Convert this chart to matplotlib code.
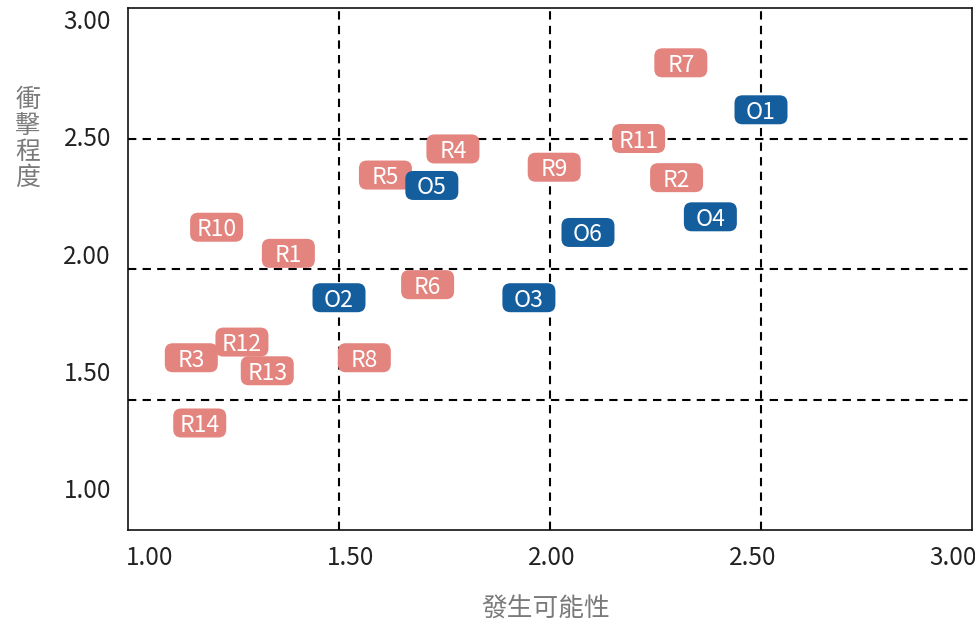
import matplotlib
matplotlib.use("Agg")
import matplotlib.pyplot as plt
import matplotlib.transforms as mtransforms
from matplotlib.patches import FancyBboxPatch

plt.rcParams['font.family'] = ['Noto Sans CJK TC', 'DejaVu Sans']

# risk items (發生可能性, 衝擊程度)
risk_labels = ['R1', 'R2', 'R3', 'R4', 'R5', 'R6', 'R7',
               'R8', 'R9', 'R10', 'R11', 'R12', 'R13', 'R14']
risk_x = [1.38, 2.30, 1.15, 1.77, 1.61, 1.71, 2.31,
          1.56, 2.01, 1.21, 2.21, 1.27, 1.33, 1.17]
risk_y = [2.06, 2.35, 1.66, 2.46, 2.36, 1.94, 2.79,
          1.66, 2.39, 2.16, 2.50, 1.72, 1.61, 1.41]

# opportunity items
opp_labels = ['O1', 'O2', 'O3', 'O4', 'O5', 'O6']
opp_x = [2.50, 1.50, 1.95, 2.38, 1.72, 2.09]
opp_y = [2.61, 1.89, 1.89, 2.20, 2.32, 2.14]

tick_values = [1.0, 1.5, 2.0, 2.5, 3.0]
tick_labels = ['1.00', '1.50', '2.00', '2.50', '3.00']
ref_lines = [1.5, 2.0, 2.5]

risk_color = '#E3847E'
opp_color = '#155E9E'

fig = plt.figure(figsize=(9.75, 6.27), dpi=100)
ax = fig.add_axes([128 / 975, 97 / 627, 844 / 975, 522 / 627])
ax.set_xlim(1.0, 3.0)
ax.set_ylim(1.0, 3.0)

for v in ref_lines:
    ax.axvline(v, color='black', lw=1.5, dashes=(4, 3), zorder=1)
    ax.axhline(v, color='black', lw=1.5, dashes=(4, 3), zorder=1)


def draw_tag(x, y, text, color):
    # fixed-size rounded tag centred on the data point (size in pixels)
    trans = mtransforms.IdentityTransform() + mtransforms.ScaledTranslation(x, y, ax.transData)
    box = FancyBboxPatch((-26.5, -14.5), 53, 29,
                         boxstyle="round,pad=0,rounding_size=8",
                         facecolor=color, edgecolor='none',
                         transform=trans, zorder=3, clip_on=False)
    ax.add_artist(box)
    ax.text(x, y, text, ha='center', va='center_baseline', color='white',
            fontsize=16.5, zorder=4)


for lab, x, y in zip(risk_labels, risk_x, risk_y):
    draw_tag(x, y, lab, risk_color)
for lab, x, y in zip(opp_labels, opp_x, opp_y):
    draw_tag(x, y, lab, opp_color)

ax.set_xticks(tick_values)
ax.set_yticks(tick_values)
ax.set_xticklabels([])
ax.set_yticklabels([])
ax.tick_params(length=0)
for s in ax.spines.values():
    s.set_linewidth(1.2)
    s.set_color('#111111')

# tick labels sit slightly inside the axis ends, as in the original
n = len(tick_labels)
for i, lab in enumerate(tick_labels):
    fx = (22 + i * (803 / (n - 1))) / 844
    ax.text(fx, -28 / 522, lab, transform=ax.transAxes, ha='center', va='center',
            fontsize=17.5, color='#222222', fontweight='light')
    fy = (39 + i * (469 / (n - 1))) / 522
    ax.text(-17 / 844, fy, lab, transform=ax.transAxes, ha='right', va='center',
            fontsize=17.5, color='#222222', fontweight='light')

fig.text(28 / 975, 1 - 139 / 627, '衝\n擊\n程\n度', ha='center', va='center',
         fontsize=18, color='#7a7a7a', linespacing=1.0)
fig.text(546 / 975, 1 - 610 / 627, '發生可能性', ha='center', va='center',
         fontsize=18.5, color='#7a7a7a')

fig.savefig('out.png', dpi=100)
